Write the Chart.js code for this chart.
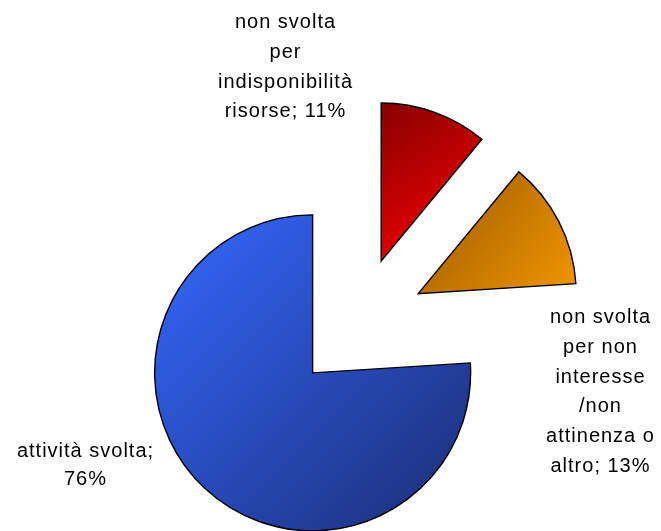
<!DOCTYPE html>
<html>
<head>
<meta charset="utf-8">
<script src="https://cdn.jsdelivr.net/npm/chart.js@4/dist/chart.umd.min.js"></script>
<style>
  html, body { margin: 0; padding: 0; background: #fff; }
  canvas { display: block; }
</style>
</head>
<body>
<canvas id="pieChart" width="661" height="531"></canvas>
<script>
// slices, clockwise from 12 o'clock
const sliceLabels = [
  ['non svolta', 'per', 'indisponibilità', 'risorse; 11%'],
  ['non svolta', 'per non', 'interesse', '/non', 'attinenza o', 'altro; 13%'],
  ['attività svolta;', '76%']
];
const sliceValues = [11, 13, 76];

// gradient ends: top-left -> bottom-right of each slice
const gradientStart = ['#6c0000', '#a56200', '#3468ff'];
const gradientEnd = ['#e60000', '#ff9e00', '#1b2d74'];

// label anchor relative to pie centre (dx, dy of first baseline)
const labelAnchors = [[-73, -296], [242, -1], [-273, 133]];

const PIE_RADIUS = 158;
const EXPLODE = 67; // px each slice is pulled out

function sectorBox(cx, cy, r, start, end) {
  const pts = [[cx, cy], [cx + r * Math.cos(start), cy + r * Math.sin(start)],
    [cx + r * Math.cos(end), cy + r * Math.sin(end)]];
  for (let k = -4; k <= 8; k++) {
    const a = k * Math.PI / 2;
    if (a > start && a < end) pts.push([cx + r * Math.cos(a), cy + r * Math.sin(a)]);
  }
  const xs = pts.map(p => p[0]);
  const ys = pts.map(p => p[1]);
  return [Math.min(...xs), Math.min(...ys), Math.max(...xs), Math.max(...ys)];
}

// draws every arc itself, shifted out along its mid angle, with a gradient fill
const explodePlugin = {
  id: 'explode',
  beforeDatasetDraw(chart, args) {
    const ctx = chart.ctx;
    args.meta.data.forEach((arc, i) => {
      const mid = (arc.startAngle + arc.endAngle) / 2;
      const dx = Math.cos(mid) * EXPLODE;
      const dy = Math.sin(mid) * EXPLODE;
      const b = sectorBox(arc.x + dx, arc.y + dy, arc.outerRadius, arc.startAngle, arc.endAngle);
      const g = ctx.createLinearGradient(b[0], b[1], b[2], b[3]);
      g.addColorStop(0, gradientStart[i]);
      g.addColorStop(1, gradientEnd[i]);
      arc.options = Object.assign({}, arc.options, { backgroundColor: g });
      ctx.save();
      ctx.translate(dx, dy);
      arc.draw(ctx, chart.chartArea);
      ctx.restore();
    });
    return false;
  }
};

const labelPlugin = {
  id: 'sliceLabels',
  afterDraw(chart) {
    const ctx = chart.ctx;
    const meta = chart.getDatasetMeta(0);
    ctx.save();
    ctx.font = '20px "Liberation Sans", Arial, sans-serif';
    ctx.letterSpacing = '1px';
    ctx.fillStyle = '#000';
    ctx.textAlign = 'center';
    ctx.textBaseline = 'alphabetic';
    meta.data.forEach((arc, i) => {
      const lines = sliceLabels[i];
      const lh = i === 2 ? 28 : 29.8;
      lines.forEach((line, j) => {
        ctx.fillText(line, arc.x + labelAnchors[i][0], arc.y + labelAnchors[i][1] + j * lh);
      });
    });
    ctx.restore();
  }
};

const ctx = document.getElementById('pieChart').getContext('2d');
new Chart(ctx, {
  type: 'pie',
  data: {
    labels: sliceLabels.map(l => l.join(' ')),
    datasets: [{
      data: sliceValues,
      backgroundColor: gradientEnd,
      borderColor: '#000',
      borderWidth: 1.4,
      borderJoinStyle: 'miter',
      hoverOffset: 0
    }]
  },
  options: {
    responsive: false,
    animation: false,
    events: [],
    radius: PIE_RADIUS,
    layout: { padding: { left: 56, right: 0, top: 117, bottom: 0 } },
    plugins: {
      legend: { display: false },
      tooltip: { enabled: false }
    }
  },
  plugins: [explodePlugin, labelPlugin]
});
</script>
</body>
</html>
